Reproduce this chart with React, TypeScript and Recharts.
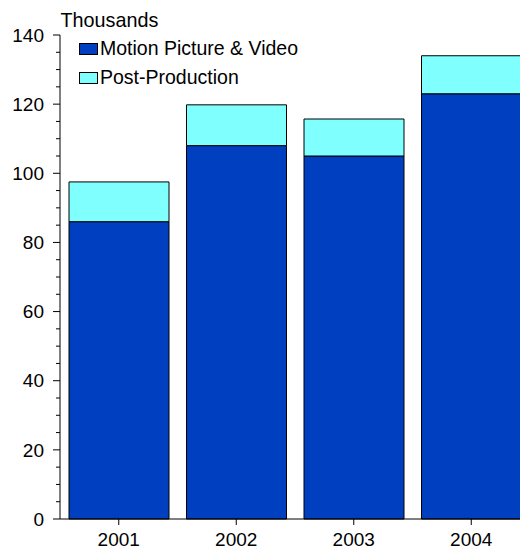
import React from 'react';
import { BarChart, Bar, XAxis, YAxis, Legend } from 'recharts';

const years = ['2001', '2002', '2003', '2004'];
const motionPicture = [86, 108, 105, 123];
const postProduction = [11.5, 11.8, 10.7, 11];
const yTicks = [0, 5, 10, 15, 20, 25, 30, 35, 40, 45, 50, 55, 60, 65, 70, 75, 80, 85, 90, 95, 100, 105, 110, 115, 120, 125, 130, 135, 140];
const majorTicks = [0, 20, 40, 60, 80, 100, 120, 140];

const data = years.map((year, i) => ({
  year,
  motion: motionPicture[i],
  post: postProduction[i],
}));

const FONT = '"Liberation Sans", Arial, sans-serif';

const YTick = (props: any) => {
  const { x, y, payload } = props;
  const major = majorTicks.includes(payload.value);
  return (
    <g>
      <line x1={x - (major ? 7 : 4)} x2={x} y1={y} y2={y} stroke="#000" />
      {major && (
        <text x={x - 16} y={y} dy="0.355em" textAnchor="end" fontSize={19} fontFamily={FONT} fill="#000">
          {payload.value}
        </text>
      )}
    </g>
  );
};

const LegendBox = (props: any) => {
  const { payload } = props;
  return (
    <div style={{ fontFamily: FONT, fontSize: 19.5, color: '#000' }}>
      {payload.map((entry: any) => (
        <div key={entry.value} style={{ display: 'flex', alignItems: 'center', height: 29, lineHeight: '29px', whiteSpace: 'nowrap' }}>
          <span
            style={{
              display: 'inline-block',
              boxSizing: 'border-box',
              width: 19,
              height: 12,
              background: entry.color,
              border: '1px solid #000',
              marginRight: 2,
            }}
          />
          <span>{entry.value}</span>
        </div>
      ))}
    </div>
  );
};

const App: React.FC = () => {
  return (
    <div style={{ position: 'absolute', left: 0, top: 0, width: 520, height: 551, overflow: 'hidden', background: '#fff' }}>
      <BarChart width={530} height={551} data={data} margin={{ top: 35, right: 0, bottom: 0, left: 0 }}>
        <XAxis
          dataKey="year"
          stroke="#000"
          tickSize={6}
          tickMargin={8}
          height={32}
          interval={0}
          tick={{ fill: '#000', fontSize: 19, fontFamily: FONT }}
        />
        <YAxis
          width={60}
          domain={[0, 140]}
          ticks={yTicks}
          interval={0}
          stroke="#000"
          tickSize={0}
          tickMargin={0}
          tickLine={false}
          tick={<YTick />}
          label={{
            content: (p: any) => (
              <text x={p.viewBox.x + p.viewBox.width + 0.5} y={p.viewBox.y - 8} fontSize={19.8} fontFamily={FONT} fill="#000">
                Thousands
              </text>
            ),
          }}
        />
        <Legend
          layout="vertical"
          align="center"
          verticalAlign="middle"
          content={<LegendBox />}
          wrapperStyle={{ top: 34, left: 79, width: 'auto' }}
        />
        <Bar dataKey="motion" name="Motion Picture & Video" stackId="a" fill="#0040C0" stroke="#000" barSize={100} isAnimationActive={false} />
        <Bar dataKey="post" name="Post-Production" stackId="a" fill="#80FFFF" stroke="#000" barSize={100} isAnimationActive={false} />
      </BarChart>
    </div>
  );
};

export default App;
